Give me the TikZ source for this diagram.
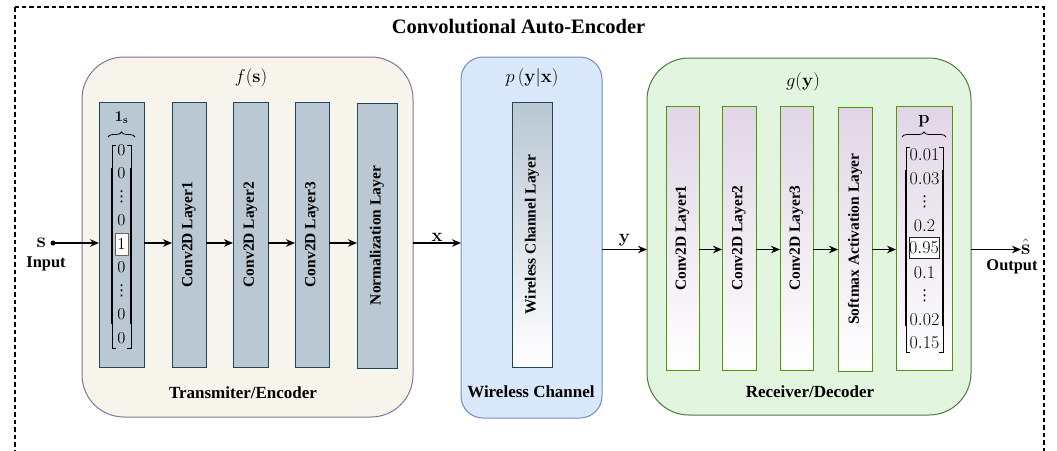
\RequirePackage{fix-cm}
\documentclass[tikz,border=0pt]{standalone}
\usepackage{amsmath}
\usepackage[no-math]{fontspec}
\setmainfont{Liberation Serif}
\newfontfamily\symfont{DejaVu Sans}
\usetikzlibrary{arrows.meta,decorations.pathreplacing}

\definecolor{encfill}{HTML}{F7F4EB}
\definecolor{encdraw}{HTML}{8E6F9B}
\definecolor{layfill}{HTML}{BAC8D3}
\definecolor{laydraw}{HTML}{23445D}
\definecolor{chfill}{HTML}{DAE8FC}
\definecolor{chdraw}{HTML}{6C8EBF}
\definecolor{decfill}{HTML}{E2F5DF}
\definecolor{decdraw}{HTML}{4F7A3F}
\definecolor{dlayfill}{HTML}{E1D5E7}
\definecolor{dlaydraw}{HTML}{4D9900}

% vertical ellipsis as a single glyph
\newcommand{\cvdots}{{\symfont\fontsize{15}{18}\selectfont ⋮}}

\begin{document}
\begin{tikzpicture}[x=1pt,y=1pt,
  every node/.style={inner sep=0pt,outer sep=0pt},
  panel/.style={line width=1pt,rounded corners=#1},
  panel/.default=42pt,
  enclayer/.style={draw=laydraw,fill=layfill,line width=1pt},
  chlayer/.style={draw=laydraw,top color=layfill,bottom color=white,line width=1pt},
  declayer/.style={draw=dlaydraw,top color=dlayfill,bottom color=white,line width=1pt},
  laytext/.style={rotate=90,font=\fontsize{15.5}{18}\selectfont\bfseries},
  boxlabel/.style={font=\fontsize{17}{20}\selectfont\bfseries},
  mathlabel/.style={font=\fontsize{18.5}{22}\selectfont},
  iolabel/.style={font=\fontsize{16.4}{19}\selectfont\bfseries},
  ohentry/.style={font=\fontsize{16.5}{19}\selectfont},
  pentry/.style={font=\fontsize{18}{21}\selectfont},
  conn/.style={-{Stealth[length=9pt,width=7.5pt]},line width=1.5pt},
  frame/.style={line width=1.1pt,dash pattern=on 4.5pt off 3pt},
]
\useasboundingbox (0,0) rectangle (1057,-450);
\path[clip] (0,0) rectangle (1057,-450);

% outer frame (its lower edge runs below the page)
\draw[frame] (15,-7) rectangle (1044,-480);
\node[font=\fontsize{20.5}{24}\selectfont\bfseries] (title) at (518.5,-27) {Convolutional Auto-Encoder};

% panels
\node[panel,draw=encdraw,fill=encfill,minimum width=331pt,minimum height=360pt] (enc) at (247.5,-237) {};
\node[panel=22pt,draw=chdraw,fill=chfill,minimum width=141pt,minimum height=361pt] (wch) at (531.5,-237.5) {};
\node[panel,draw=decdraw,fill=decfill,minimum width=324pt,minimum height=357pt] (dec) at (809,-236.5) {};

\node[mathlabel] (flab) at (251,-78) {$f(\mathbf{s})$};
\node[mathlabel] (plab) at (532,-78) {$p\left(\mathbf{y}|\mathbf{x}\right)$};
\node[mathlabel] (glab) at (803,-82) {$g(\mathbf{y})$};

\node[boxlabel] (enclab) at (243,-393) {Transmiter/Encoder};
\node[boxlabel] (wchlab) at (531,-392) {Wireless Channel};
\node[boxlabel] (declab) at (810,-392) {Receiver/Decoder};

% encoder layers
\node[enclayer,minimum width=45pt,minimum height=265pt] (e0) at (121.5,-234.5) {};
\node[enclayer,minimum width=34pt,minimum height=265pt] (e1) at (189,-234.5) {};
\node[enclayer,minimum width=35pt,minimum height=265pt] (e2) at (250.5,-234.5) {};
\node[enclayer,minimum width=34pt,minimum height=265pt] (e3) at (312,-234.5) {};
\node[enclayer,minimum width=40pt,minimum height=265pt] (e4) at (377,-235.5) {};
\node[laytext] (e1t) at (e1) {Conv2D Layer1};
\node[laytext] (e2t) at (e2) {Conv2D Layer2};
\node[laytext] (e3t) at (e3) {Conv2D Layer3};
\node[laytext] (e4t) at (e4) {Normalization Layer};

% channel layer
\node[chlayer,minimum width=40pt,minimum height=265pt] (w0) at (532,-234.5) {};
\node[laytext] (w0t) at (w0) {Wireless Channel Layer};

% decoder layers
\node[declayer,minimum width=33pt,minimum height=264pt] (d1) at (682.5,-238) {};
\node[declayer,minimum width=34pt,minimum height=264pt] (d2) at (739,-238) {};
\node[declayer,minimum width=33pt,minimum height=264pt] (d3) at (796.5,-238) {};
\node[declayer,minimum width=34pt,minimum height=264pt] (d4) at (855,-239) {};
\node[declayer,minimum width=56pt,minimum height=264pt] (d5) at (924,-238) {};
\node[laytext] (d1t) at (d1) {Conv2D Layer1};
\node[laytext] (d2t) at (d2) {Conv2D Layer2};
\node[laytext] (d3t) at (d3) {Conv2D Layer3};
\node[laytext] (d4t) at (d4) {Softmax Activation Layer};

% one-hot input vector
\draw[line width=0.6pt] (116,-145) -- (112,-145) -- (112,-348) -- (116,-348);
\draw[line width=0.6pt] (127,-145) -- (131,-145) -- (131,-348) -- (127,-348);
\draw[line width=1.8pt] (112,-168) -- (112,-324) (131,-168) -- (131,-324);
\foreach \v/\i in {0/0,0/1,0/3,0/5,0/7,0/8}
  \node[ohentry] (oh\i) at (121.5,{-150-23.5*\i}) {$\v$};
\foreach \i in {2,6}
  \node[ohentry] (oh\i) at (121.5,{-150-23.5*\i}) {\cvdots};
\node[ohentry,draw=black!60,fill=white,line width=0.8pt,minimum width=13pt,minimum height=22pt] (oh4) at (121.5,-244) {$1$};
\draw[decorate,decoration={brace,amplitude=5pt},line width=0.8pt] (108,-137) -- (135,-137);
\node[font=\fontsize{15}{18}\selectfont] (ohlab) at (121.5,-118) {$\mathbf{1}_{\mathbf{s}}$};

% output probability vector
\draw[line width=0.6pt] (910,-147) -- (906,-147) -- (906,-352) -- (910,-352);
\draw[line width=0.6pt] (939,-147) -- (943,-147) -- (943,-352) -- (939,-352);
\draw[line width=1.8pt] (906,-170) -- (906,-326) (943,-170) -- (943,-326);
\foreach \v/\i in {0.01/0,0.03/1,0.2/3,0.1/5,0.02/7,0.15/8}
  \node[pentry] (pv\i) at (924.5,{-155-23.5*\i}) {$\v$};
\foreach \i in {2,6}
  \node[pentry] (pv\i) at (924.5,{-155-23.5*\i}) {\cvdots};
\node[pentry,draw=black!85,fill=white,line width=0.8pt,minimum width=30pt,minimum height=21pt] (pv4) at (924,-247.5) {$0.95$};
\draw[decorate,decoration={brace,amplitude=5pt},line width=0.8pt] (902,-137) -- (946,-137);
\node[font=\fontsize{18}{21}\selectfont,anchor=base] (plabv) at (924,-123) {$\mathbf{p}$};

% signal rows
\coordinate (erow) at (0,-243);
\coordinate (drow) at (0,-249.5);

% input
\node[circle,fill=black,minimum size=5pt] (sin) at (53,-243) {};
\node[font=\fontsize{21}{25}\selectfont,anchor=base east] (slab) at (46,-247.5) {$\mathbf{s}$};
\node[iolabel] (inlab) at (46,-264) {Input};
\draw[conn] (sin.center) -- (e0.west |- erow);

% encoder chain
\draw[conn] (e0.east |- erow) -- (e1.west |- erow);
\draw[conn] (e1.east |- erow) -- (e2.west |- erow);
\draw[conn] (e2.east |- erow) -- (e3.west |- erow);
\draw[conn] (e3.east |- erow) -- (e4.west |- erow);
\draw[conn] (enc.east |- erow) -- (wch.west |- erow)
  node[midway,above=2pt,font=\fontsize{18.5}{22}\selectfont] {$\mathbf{x}$};

% channel to decoder
\draw[conn] (wch.east |- drow) -- (dec.west |- drow)
  node[midway,above=3pt,font=\fontsize{18.5}{22}\selectfont] {$\mathbf{y}$};

% decoder chain
\draw[conn] (d1.east |- drow) -- (d2.west |- drow);
\draw[conn] (d2.east |- drow) -- (d3.west |- drow);
\draw[conn] (d3.east |- drow) -- (d4.west |- drow);
\draw[conn] (d4.east |- drow) -- (d5.west |- drow);

% output
\node[font=\fontsize{21}{25}\selectfont,anchor=base west] (shat) at (1021,-254) {$\hat{\mathbf{s}}$};
\node[iolabel] (outlab) at (1012,-267) {Output};
\draw[conn] (dec.east |- drow) -- (shat.west |- drow);
\end{tikzpicture}
\end{document}
